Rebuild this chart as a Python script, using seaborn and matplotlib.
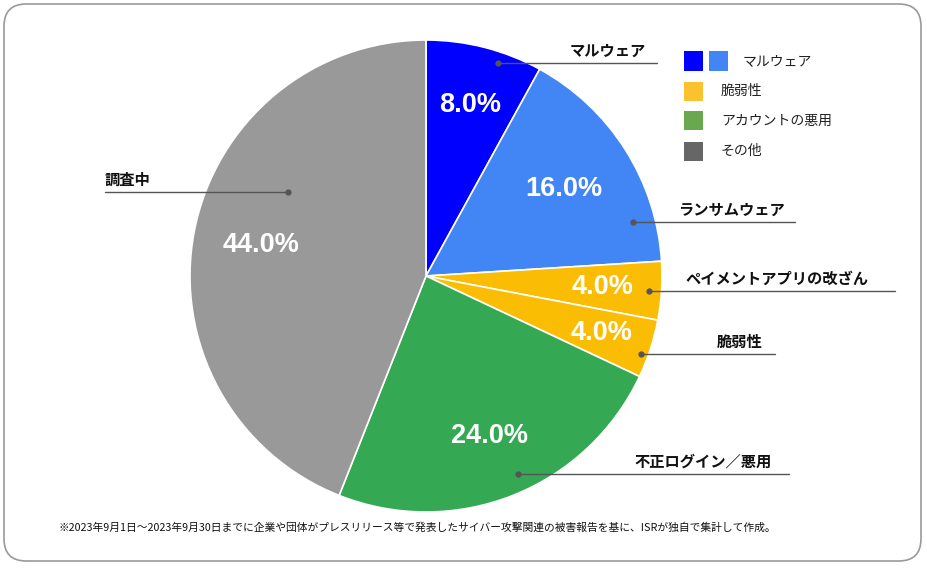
import numpy as np
import matplotlib
matplotlib.use("Agg")
import matplotlib.pyplot as plt
import seaborn as sns
from matplotlib.patches import FancyBboxPatch, Rectangle

sns.set_theme(style="white")
plt.rcParams['font.family'] = ['Noto Sans CJK JP', 'DejaVu Sans']

# Data
categories = ["マルウェア", "ランサムウェア", "ペイメントアプリの改ざん", "脆弱性", "不正ログイン／悪用", "調査中"]
shares = [8.0, 16.0, 4.0, 4.0, 24.0, 44.0]
slice_colors = ["#0000FF", "#4285F4", "#FBBC04", "#FBBC04", "#34A853", "#999999"]

legend_labels = ["マルウェア", "脆弱性", "アカウントの悪用", "その他"]
legend_colors = [["#0000FF", "#4285F4"], ["#F9C22E"], ["#6AA84F"], ["#666666"]]

footnote = ("※2023年9月1日～2023年9月30日までに企業や団体がプレスリリース等で発表した"
            "サイバー攻撃関連の被害報告を基に、ISRが独自で集計して作成。")

# Layout (pixel units, origin top-left)
W, H = 927, 568
CX, CY, R = 426, 276, 236
# leader dot: position within wedge (fraction of sweep), radius fraction
dot_frac = [0.65, 0.81, 0.52, 0.63, 0.46, 0.63]
dot_rad = [0.953, 0.907, 0.947, 0.97, 0.924, 0.686]
line_end = [657, 795, 895, 775, 789, 105]
text_x = [608, 731, 777, 740, 703, 105]
pct_rad = [0.75, 0.69, 0.75, 0.78, 0.73, 0.71]

fig = plt.figure(figsize=(W / 100, H / 100), dpi=100)
fig.patch.set_facecolor("white")
ax = fig.add_axes([0, 0, 1, 1])

wedges, _, autotexts = ax.pie(
    shares, colors=slice_colors, startangle=90, counterclock=False,
    center=(CX, H - CY), radius=R,
    autopct=lambda p: f"{p:.1f}%", pctdistance=0.73,
    wedgeprops=dict(edgecolor="white", linewidth=1.2),
)

cum = np.concatenate([[0], np.cumsum(shares)]) / 100.0
for i, t in enumerate(autotexts):
    mid = np.deg2rad(90 - 360 * (cum[i] + cum[i + 1]) / 2)
    t.set_position((CX + pct_rad[i] * R * np.cos(mid),
                    (H - CY) + pct_rad[i] * R * np.sin(mid)))
    t.set_color("white")
    t.set_fontsize(19.5)
    t.set_fontweight("bold")
    t.set_family(["Liberation Sans", "DejaVu Sans"])

# leader lines and labels
for i, name in enumerate(categories):
    frac = cum[i] + dot_frac[i] * (cum[i + 1] - cum[i])
    ang = np.deg2rad(90 - 360 * frac)
    dx = CX + dot_rad[i] * R * np.cos(ang)
    dy = (H - CY) + dot_rad[i] * R * np.sin(ang)
    ax.plot([dx, line_end[i]], [dy, dy], color="#555555", lw=1.0, zorder=5)
    ax.plot(dx, dy, "o", color="#555555", ms=3.5, zorder=6)
    ha = "left" if line_end[i] < dx else "center"
    ax.text(text_x[i], dy + 12, name, ha=ha, va="center",
            fontsize=11, fontweight="bold", color="#111111")

ax.set_xlim(0, W)
ax.set_ylim(0, H)
ax.set_aspect("equal")
ax.axis("off")

# legend drawn by hand (first row has two swatches)
for row, (lab, cols) in enumerate(zip(legend_labels, legend_colors)):
    yc = 61 + row * 30
    for k, c in enumerate(cols):
        x0 = 684 + k * 25
        fig.add_artist(Rectangle((x0 / W, 1 - (yc + 9.5) / H), 19 / W, 19 / H,
                                 transform=fig.transFigure, facecolor=c,
                                 edgecolor="none"))
    tx = 743 if len(cols) > 1 else 721
    fig.text(tx / W, 1 - yc / H, lab, ha="left", va="center",
             fontsize=10, color="#222222")

# footnote
fig.text(58 / W, 1 - 528 / H, footnote, ha="left", va="center",
         fontsize=7.75, color="#111111")

# rounded border
fig.add_artist(FancyBboxPatch((4 / W, 1 - 561 / H), 917 / W, 557 / H,
                              boxstyle="round,pad=0,rounding_size=0.024",
                              transform=fig.transFigure, facecolor="none",
                              edgecolor="#999999", linewidth=1.2,
                              mutation_aspect=W / H))

plt.savefig("out.png", dpi=100)
